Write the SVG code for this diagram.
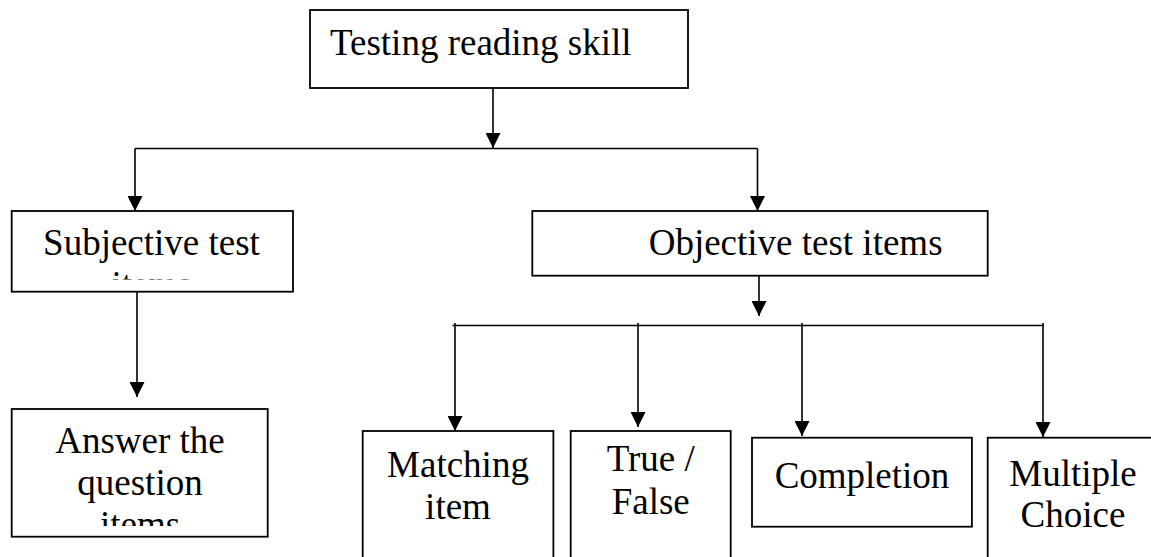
<svg xmlns="http://www.w3.org/2000/svg" width="1151" height="557" viewBox="0 0 1151 557">
  <style>
    .box { fill: #ffffff; stroke: #000000; stroke-width: 1.8; }
    .label { font-family: "Liberation Serif", "Times New Roman", serif; font-size: 37px; fill: #000000; text-anchor: middle; }
    .wire { fill: none; stroke: #000000; stroke-width: 1.6; }
    .arrow { fill: none; stroke: #000000; stroke-width: 1.6; marker-end: url(#head); }
  </style>
  <defs>
    <marker id="head" markerUnits="userSpaceOnUse" markerWidth="15" markerHeight="15" refX="15" refY="7.5" orient="auto" viewBox="0 0 15 15">
      <path d="M0 0 L15 7.5 L0 15 Z" fill="#000000"/>
    </marker>
    <!-- text areas of the two boxes whose last line overflows -->
    <clipPath id="clip-subjective"><rect x="12" y="211" width="281" height="68.5"/></clipPath>
    <clipPath id="clip-answer"><rect x="12" y="409" width="256" height="117"/></clipPath>
  </defs>
  <rect width="1151" height="557" fill="#ffffff"/>

  <g id="connectors">
    <path class="arrow" d="M493 88 V148"/>
    <path class="wire" d="M135 148.5 H757.5"/>
    <path class="arrow" d="M135 148.5 V211"/>
    <path class="arrow" d="M757.5 148.5 V211"/>
    <path class="arrow" d="M137 292 V397"/>
    <path class="arrow" d="M759 276 V316"/>
    <path class="wire" d="M452.5 325.5 H1044"/>
    <path class="arrow" d="M455 323 V431"/>
    <path class="arrow" d="M638 323 V427"/>
    <path class="arrow" d="M802 323 V436"/>
    <path class="arrow" d="M1043 323 V437"/>
  </g>

  <g id="node-testing">
    <rect class="box" x="310" y="10" width="378" height="78"/>
    <text class="label" x="330" y="55" style="text-anchor:start">Testing reading skill</text>
  </g>

  <g id="node-subjective">
    <rect class="box" x="11.7" y="211" width="281.3" height="80.7"/>
    <g clip-path="url(#clip-subjective)">
      <text class="label" x="151.5" y="255">Subjective test</text>
      <text class="label" x="151.5" y="297">items</text>
    </g>
  </g>

  <g id="node-objective">
    <rect class="box" x="532.3" y="211" width="455.4" height="64.7"/>
    <text class="label" x="795.6" y="255">Objective test items</text>
  </g>

  <g id="node-answer">
    <rect class="box" x="11.7" y="409" width="256" height="127.7"/>
    <g clip-path="url(#clip-answer)">
      <text class="label" x="140" y="453">Answer the</text>
      <text class="label" x="140" y="495">question</text>
      <text class="label" x="140" y="537">items</text>
    </g>
  </g>

  <g id="node-matching">
    <rect class="box" x="362.7" y="431" width="190.7" height="140"/>
    <text class="label" x="458" y="477">Matching</text>
    <text class="label" x="458" y="519">item</text>
  </g>

  <g id="node-truefalse">
    <rect class="box" x="570.7" y="431" width="160" height="140"/>
    <text class="label" x="650.7" y="471">True /</text>
    <text class="label" x="650.7" y="514">False</text>
  </g>

  <g id="node-completion">
    <rect class="box" x="752" y="437.7" width="219.9" height="89"/>
    <text class="label" x="862" y="488">Completion</text>
  </g>

  <g id="node-multiple">
    <rect class="box" x="987.7" y="437.7" width="170.6" height="140"/>
    <text class="label" x="1073" y="486">Multiple</text>
    <text class="label" x="1073" y="527">Choice</text>
  </g>
</svg>
